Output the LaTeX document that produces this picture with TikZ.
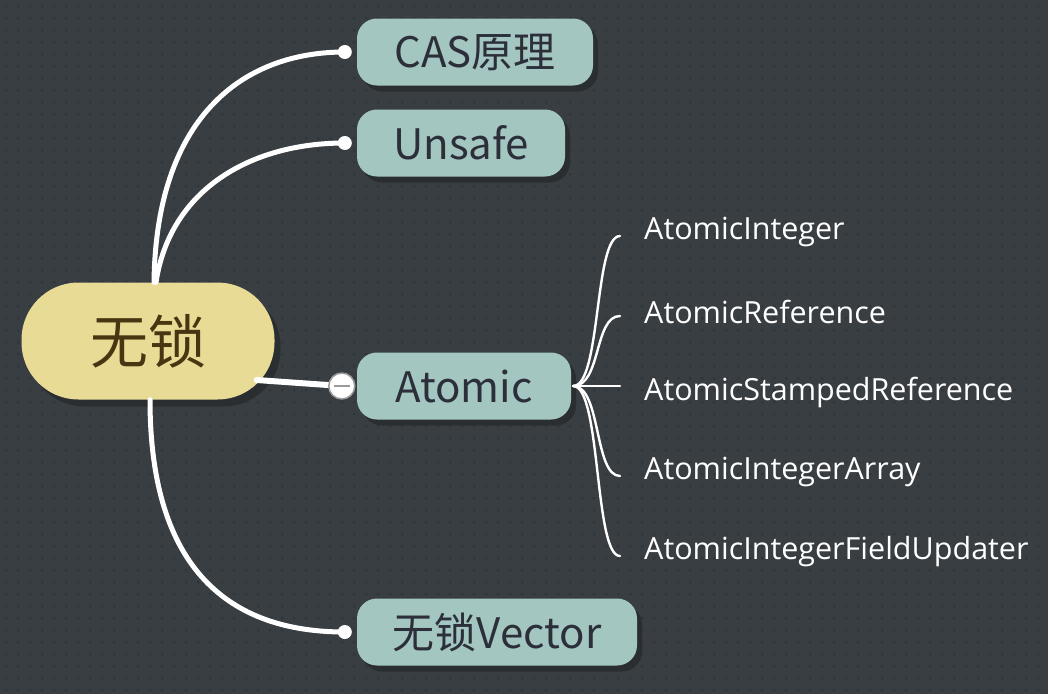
\documentclass[tikz,border=0pt]{standalone}
\usepackage{fontspec}
\setmainfont{Open Sans}
\newfontfamily\cjk{Noto Sans CJK SC}
\usetikzlibrary{positioning,shadows}
\definecolor{bgcol}{HTML}{393E42}
\definecolor{dotcol}{HTML}{30353A}
\definecolor{rootfill}{HTML}{E8DB96}
\definecolor{rootink}{HTML}{4A3512}
\definecolor{topicfill}{HTML}{A3C6C0}
\definecolor{topicink}{HTML}{2C2F3A}
\definecolor{shadowcol}{HTML}{2A2E31}
\definecolor{knobgray}{HTML}{9A9A9A}
\tikzstyle{rootnode} =[rectangle, fill=rootfill, text=rootink, rounded corners=57pt,
                        minimum width=253pt, minimum height=117pt, inner sep=0pt,
                        font=\cjk\fontsize{58}{62}\selectfont,
                        drop shadow={shadow xshift=6pt, shadow yshift=-7pt, fill=shadowcol, opacity=1}]
\tikzstyle{topic}    =[rectangle, fill=topicfill, text=topicink, rounded corners=20pt,
                        minimum height=67pt, inner sep=0pt,
                        font=\cjk\fontsize{42}{46}\selectfont,
                        drop shadow={shadow xshift=5pt, shadow yshift=-6pt, fill=shadowcol, opacity=1}]
\tikzstyle{leaf}     =[anchor=west, text=white, inner sep=2pt, font=\fontsize{30.5}{34}\selectfont]
\tikzstyle{branch}   =[draw=white, line width=5pt, line cap=round]
\tikzstyle{twig}     =[draw=white, line width=2.4pt, line cap=round]
\tikzstyle{knob}     =[circle, fill=white, inner sep=0pt, minimum size=14pt]

\begin{document}
\begin{tikzpicture}[x=1pt, y=-1pt]

  % ── canvas with dot grid ────────────────────────────────────────────────────
  \fill[bgcol] (0,0) rectangle (1048,694);
  \useasboundingbox (0,0) rectangle (1048,694);
  \fill[dotcol] \foreach \i in {0,...,87} {\foreach \j in {0,...,57}
    {(\i*12+5,\j*12+5) rectangle ++(2.4,2.4)}};

  % ── nodes at explicit coordinates ──────────────────────────────────────────
  \node[rootnode]                       (root)   at (148, 341) {无锁};
  \node[topic, minimum width=236pt]     (cas)    at (475,  52) {CAS原理};
  \node[topic, minimum width=208pt]     (unsafe) at (461, 143) {Unsafe};
  \node[topic, minimum width=214pt]     (atomic) at (464, 386) {Atomic};
  \node[topic, minimum width=280pt]     (vector) at (497, 632) {无锁Vector};

  \node[leaf] (aint)  at (642, 232) {AtomicInteger};
  \node[leaf] (aref)  at (642, 312) {AtomicReference};
  \node[leaf] (astmp) at (642, 392) {AtomicStampedReference};
  \node[leaf] (aarr)  at (642, 472) {AtomicIntegerArray};
  \node[leaf] (afld)  at (642, 552) {AtomicIntegerFieldUpdater};

  % ── branches from the root ──────────────────────────────────────────────────
  \coordinate (casend)    at ([xshift=-12pt]cas.west);
  \coordinate (unsafeend) at ([xshift=-12pt]unsafe.west);
  \coordinate (vectorend) at ([xshift=-12pt]vector.west);
  \coordinate (atomicend) at ([xshift=-15pt]atomic.west);

  \draw[branch] ([xshift=6pt]root.north)
    .. controls (156,120) and (240,52) .. (casend);
  \draw[branch] ([xshift=8pt]root.north)
    .. controls (170,190) and (250,143) .. (unsafeend);
  \draw[branch] ([xshift=2pt]root.south)
    .. controls (150,570) and (230,632) .. (vectorend);
  \draw[branch, line width=6pt] ([xshift=-18pt,yshift=-39pt]root.east) -- (atomicend);

  \node[knob] at (casend)    {};
  \node[knob] at (unsafeend) {};
  \node[knob] at (vectorend) {};
  \node[circle, fill=white, draw=knobgray, line width=1.5pt, minimum size=26pt,
        inner sep=0pt] (fold) at (atomicend) {};
  \draw[knobgray, line width=2pt] ([xshift=-8pt]fold.center) -- ([xshift=8pt]fold.center);

  % ── Atomic children ─────────────────────────────────────────────────────────
  \foreach \leafname in {aint,aref,aarr,afld}
    \draw[twig] ([xshift=2pt]atomic.east)
      .. controls +(28,0) and +(-26,0) .. ([xshift=-22pt,yshift=-4pt]\leafname.west);
  \draw[twig] ([xshift=2pt]atomic.east) -- ([xshift=-22pt]astmp.west |- atomic.east);

\end{tikzpicture}
\end{document}
